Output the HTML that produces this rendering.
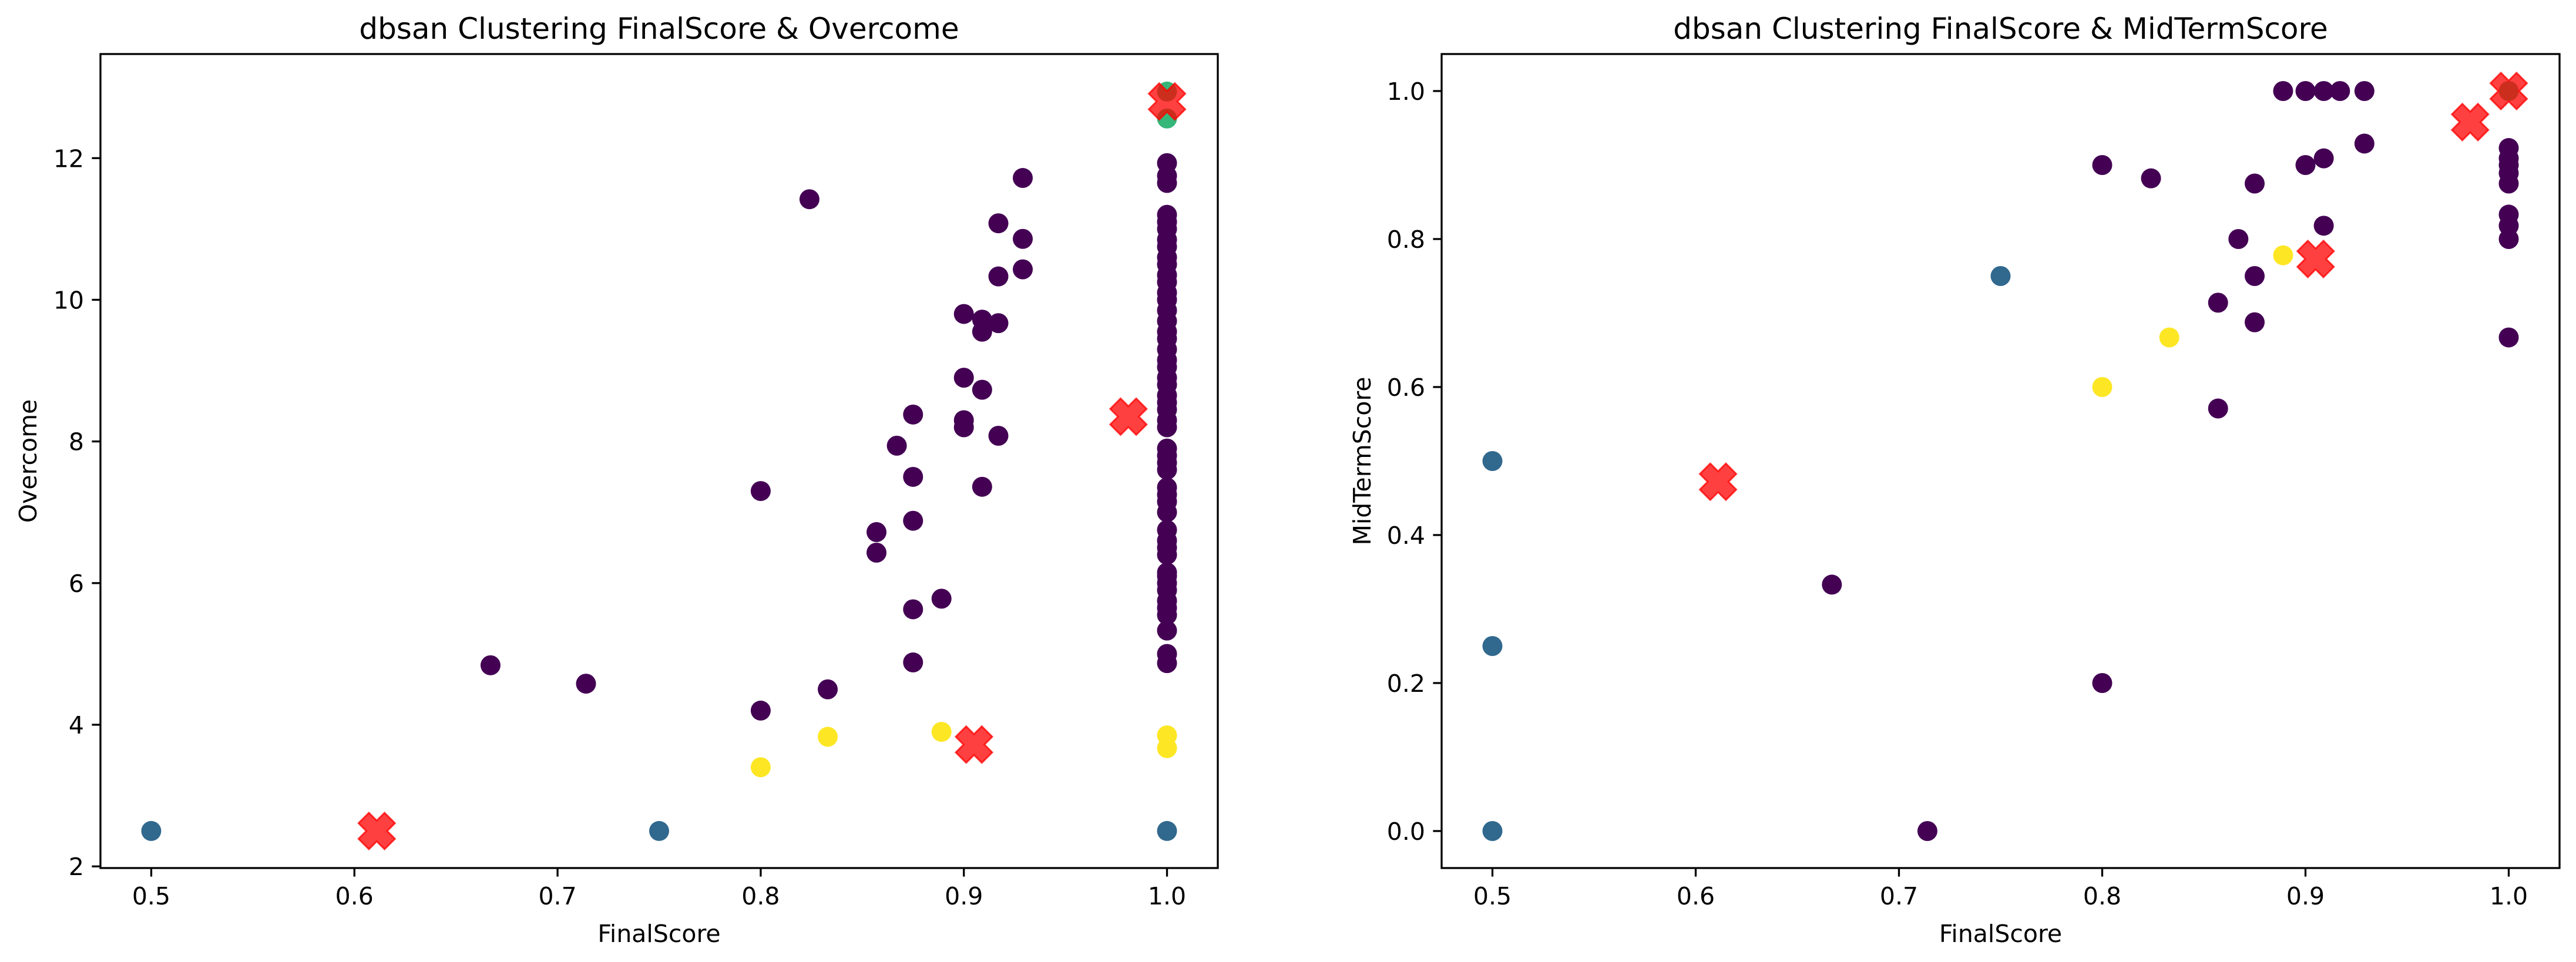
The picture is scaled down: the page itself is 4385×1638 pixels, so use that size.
<!DOCTYPE html>
<html><head><meta charset="utf-8"><style>
html,body{margin:0;padding:0;background:#fff;}
svg{display:block;font-family:"DejaVu Sans","Liberation Sans",sans-serif;}
</style></head><body>
<svg id="fig" width="4385" height="1638" viewBox="0 0 4385 1638" xmlns="http://www.w3.org/2000/svg">
<rect width="4385" height="1638" fill="#fff"/>
</svg>
<script>
// ---- Data: left chart (FinalScore vs Overcome) ----
const leftPurpleX = [0.667,0.714,0.8,0.8,0.824,0.833,0.857,0.857,0.867,0.875,0.875,0.875,0.875,0.875,0.889,0.9,0.9,0.9,0.9,0.909,0.909,0.909,0.909,0.917,0.917,0.917,0.917,0.929,0.929,0.929,
1,1,1,1,1,1,1,1,1,1,1,1,1,1,1,1,1,1,1,1,1,1,1,1,1,1,1,1,1,1,1,1,1,1,1,1,1,1,1,1,1,1,1,1,1,1,1,1,1,1];
const leftPurpleY = [4.84,4.58,7.3,4.2,11.42,4.5,6.72,6.43,7.94,8.38,7.5,6.88,5.63,4.88,5.78,9.8,8.9,8.3,8.2,9.72,9.55,8.73,7.36,11.08,10.33,9.67,8.08,11.72,10.86,10.43,
4.87,5.0,5.33,5.55,5.65,5.75,5.9,6.0,6.1,6.15,6.4,6.5,6.6,6.75,7.0,7.15,7.25,7.35,7.6,7.7,7.8,7.9,8.2,8.3,8.45,8.55,8.65,8.8,8.9,9.05,9.15,9.3,9.45,9.55,9.7,9.85,10.0,10.1,10.25,10.35,10.5,10.6,10.75,10.85,11.0,11.1,11.2,11.65,11.75,11.93];
const leftBlueX = [0.5,0.75,1.0];
const leftBlueY = [2.5,2.5,2.5];
const leftGreenX = [1.0,1.0];
const leftGreenY = [12.94,12.56];
const leftYellowX = [0.8,0.833,0.889,1.0,1.0];
const leftYellowY = [3.4,3.83,3.9,3.85,3.67];
const leftCentX = [0.611,0.905,0.981,1.0];
const leftCentY = [2.5,3.72,8.35,12.8];
const leftYTicks = [2,4,6,8,10,12];
// ---- Data: right chart (FinalScore vs MidTermScore) ----
const rightPurpleX = [0.667,0.714,0.8,0.8,0.824,0.857,0.857,0.867,0.875,0.875,0.875,0.889,0.9,0.9,0.909,0.909,0.909,0.917,0.929,0.929,1,1,1,1,1,1,1,1,1];
const rightPurpleY = [0.333,0,0.9,0.2,0.882,0.714,0.571,0.8,0.875,0.75,0.6875,1,1,0.9,1,0.909,0.818,1,1,0.929,0.923,0.909,0.9,0.889,0.875,0.833,0.818,0.8,0.667];
const rightBlueX = [0.5,0.5,0.5,0.75];
const rightBlueY = [0.5,0.25,0,0.75];
const rightGreenX = [1.0];
const rightGreenY = [1.0];
const rightYellowX = [0.8,0.833,0.889];
const rightYellowY = [0.6,0.667,0.778];
const rightCentX = [0.611,0.905,0.981,1.0];
const rightCentY = [0.472,0.773,0.958,1.0];
const rightYTicks = [0.0,0.2,0.4,0.6,0.8,1.0];
const xTicks = [0.5,0.6,0.7,0.8,0.9,1.0];

const NS="http://www.w3.org/2000/svg";
const svg=document.getElementById('fig');
function mk(tag,attrs,parent){const e=document.createElementNS(NS,tag);for(const k in attrs)e.setAttribute(k,attrs[k]);(parent||svg).appendChild(e);return e;}

function panel(cfg){
  const g=mk('g',{});
  
  
  const L=cfg.left,R=cfg.right,T=92,B=1478;
  const xs=v=>L+(v-0.475)/(1.025-0.475)*(R-L);
  const ys=v=>B-(v-cfg.ymin)/(cfg.ymax-cfg.ymin)*(B-T);
  const pts=mk('g',{},g);
  
  
  const series=[[cfg.px,cfg.py,'#440154','cluster-noise-point'],[cfg.bx,cfg.by,'#31688e','cluster-0-point'],[cfg.gx,cfg.gy,'#35b779','cluster-1-point'],[cfg.yx,cfg.yy,'#fde725','cluster-2-point']];
  series.forEach(s=>{
    for(let i=0;i<s[0].length;i++){
      const c=mk('circle',{cx:xs(s[0][i]),cy:ys(s[1][i]),r:17,fill:s[2]},pts);
      
      
    }
  });
  for(let i=0;i<cfg.cx.length;i++){
    const cx=xs(cfg.cx[i]),cy=ys(cfg.cy[i]);
    const Lg=31.3,w=12.5;
    const raw=[[w,w],[w,Lg],[-w,Lg],[-w,w],[-Lg,w],[-Lg,-w],[-w,-w],[-w,-Lg],[w,-Lg],[w,-w],[Lg,-w],[Lg,w]];
    const c=Math.SQRT1_2;
    const p=raw.map(([a,b])=>[(cx+(a-b)*c).toFixed(1),(cy+(a+b)*c).toFixed(1)].join(',')).join(' ');
    const m=mk('polygon',{points:p,fill:'rgba(255,0,0,0.75)',stroke:'rgba(255,0,0,0.75)','stroke-width':3},g);
    
    
  }
  const fr=mk('rect',{x:L,y:T,width:R-L,height:B-T,fill:'none',stroke:'#000','stroke-width':3.3},g);
  
  
  xTicks.forEach(v=>{
    const x=xs(v);
    mk('line',{x1:x,y1:B,x2:x,y2:B+14.6,stroke:'#000','stroke-width':3.3},g);
    const t=mk('text',{x:x,y:B+62,'font-size':41,'text-anchor':'middle',fill:'#000'},g);
    t.textContent=v.toFixed(1);
    
    
  });
  cfg.yt.forEach(v=>{
    const y=ys(v);
    mk('line',{x1:L,y1:y,x2:L-14.6,y2:y,stroke:'#000','stroke-width':3.3},g);
    const t=mk('text',{x:L-28,y:y+15,'font-size':41,'text-anchor':'end',fill:'#000'},g);
    t.textContent=cfg.ydec?v.toFixed(1):String(v);
    
    
  });
  const xl=mk('text',{x:(L+R)/2,y:1604,'font-size':41,'text-anchor':'middle',fill:'#000'},g);
  xl.textContent='FinalScore';
  
  
  const yl=mk('text',{x:0,y:0,'font-size':41,'text-anchor':'middle',fill:'#000',transform:`translate(${cfg.ylx},${(T+B)/2}) rotate(-90)`},g);
  yl.textContent=cfg.ylabel;
  
  
  const tt=mk('text',{x:(L+R)/2,y:66,'font-size':50,'text-anchor':'middle',fill:'#000'},g);
  tt.textContent=cfg.title;
  
  
}
panel({name:'overcome-chart',left:171,right:2073,ymin:1.977,ymax:13.47,yt:leftYTicks,ydec:false,
  px:leftPurpleX,py:leftPurpleY,bx:leftBlueX,by:leftBlueY,gx:leftGreenX,gy:leftGreenY,yx:leftYellowX,yy:leftYellowY,cx:leftCentX,cy:leftCentY,
  ylx:62,ylabel:'Overcome',title:'dbsan Clustering FinalScore & Overcome'});
panel({name:'midterm-chart',left:2454,right:4357,ymin:-0.05,ymax:1.05,yt:rightYTicks,ydec:true,
  px:rightPurpleX,py:rightPurpleY,bx:rightBlueX,by:rightBlueY,gx:rightGreenX,gy:rightGreenY,yx:rightYellowX,yy:rightYellowY,cx:rightCentX,cy:rightCentY,
  ylx:2333,ylabel:'MidTermScore',title:'dbsan Clustering FinalScore & MidTermScore'});
</script>
</body></html>
